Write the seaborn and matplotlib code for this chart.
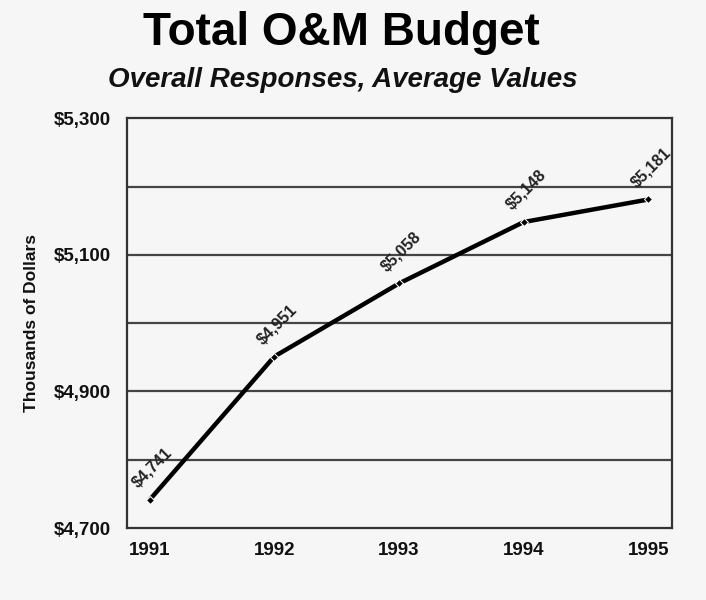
import numpy as np
import pandas as pd
import seaborn as sns
import matplotlib.pyplot as plt

# Veriler
years = [1991, 1992, 1993, 1994, 1995]
budget = [4741, 4951, 5058, 5148, 5181]
value_labels = ["$4,741", "$4,951", "$5,058", "$5,148", "$5,181"]
y_ticks = [4700, 4900, 5100, 5300]
y_tick_labels = ["$4,700", "$4,900", "$5,100", "$5,300"]

df = pd.DataFrame({"year": years, "budget": budget})

sns.set_theme(style="white")
plt.rcParams['font.family'] = ['Liberation Sans', 'DejaVu Sans']
plt.rcParams['text.color'] = 'black'

fig = plt.figure(figsize=(7.06, 6), dpi=100, facecolor="#f6f6f6")
ax = fig.add_axes([0.18, 0.12, 0.772, 0.683])
ax.set_facecolor("#f6f6f6")

# Izgara çizgileri
for g in np.arange(4800, 5300, 100):
    ax.axhline(g, color="#444444", lw=1.6, zorder=1)

sns.lineplot(data=df, x="year", y="budget", ax=ax, color="black", lw=3.2,
             marker="D", markersize=4, zorder=3)

for x, y, t in zip(years, budget, value_labels):
    ax.annotate(t, (x, y), xytext=(2, 23), textcoords="offset points",
                rotation=45, ha="center", va="center", fontsize=11.5,
                fontweight="bold", color="#222222", rotation_mode="anchor")

ax.set_xlim(1990.82, 1995.19)
ax.set_ylim(4700, 5300)
ax.set_xticks(years)
ax.set_xticklabels([str(y) for y in years], fontsize=13.5, fontweight="bold",
                   color="#111111")
ax.set_yticks(y_ticks)
ax.set_yticklabels(y_tick_labels, fontsize=13.5, fontweight="bold",
                   color="#111111")
ax.tick_params(axis="x", length=0, pad=10)
ax.tick_params(axis="y", length=0, pad=12)
ax.set_xlabel("")
ax.set_ylabel("Thousands of Dollars", fontsize=12.5, fontweight="bold",
              labelpad=10, color="#111111")

for s in ax.spines.values():
    s.set_color("#333333")
    s.set_linewidth(1.6)

fig.text(0.483, 0.945, "Total O&M Budget", ha="center", va="center",
         fontsize=33, fontweight="bold", color="black")
fig.text(0.485, 0.866, "Overall Responses, Average Values", ha="center",
         va="center", fontsize=20, fontweight="bold", style="italic",
         color="#111111")

fig.savefig("out.png", dpi=100, facecolor=fig.get_facecolor())
